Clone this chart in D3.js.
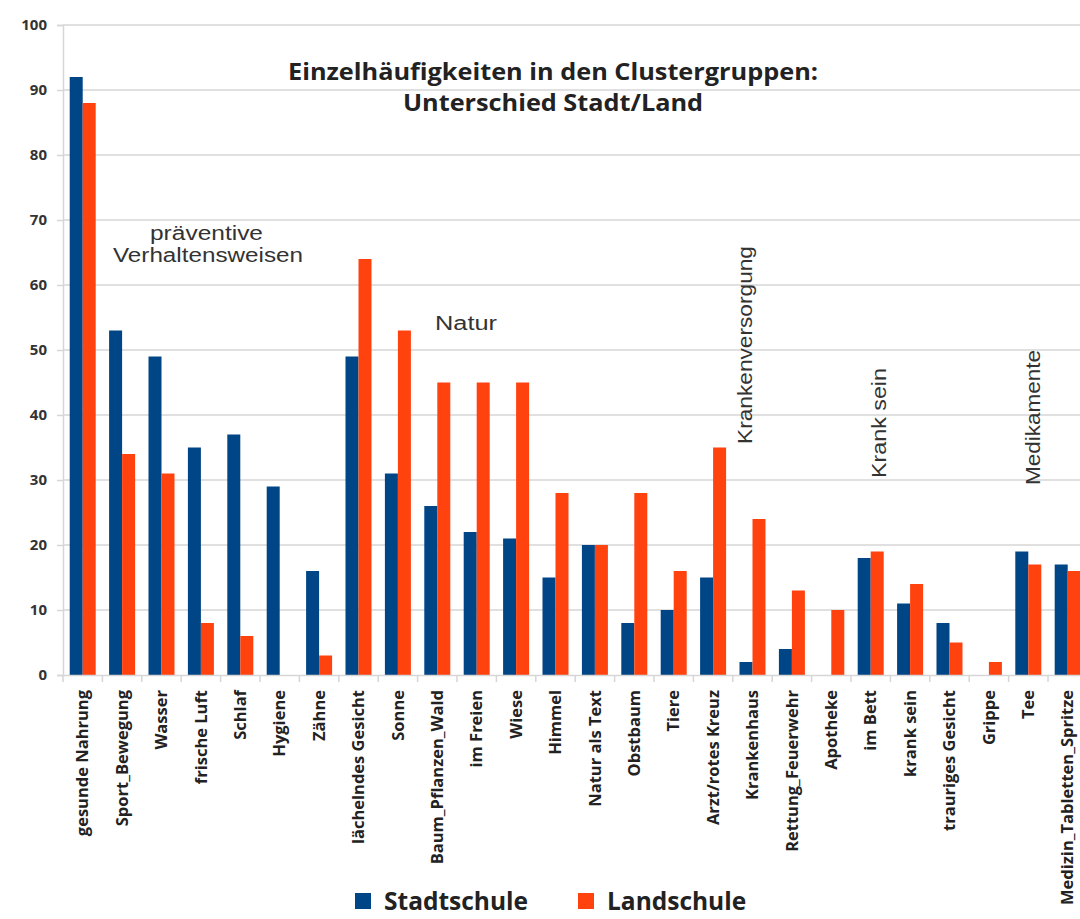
<!DOCTYPE html>
<html><head><meta charset="utf-8">
<script src="https://cdn.jsdelivr.net/npm/d3@7"></script>
<style>
html,body{margin:0;padding:0;background:#fff;}
svg{display:block;}
</style></head>
<body>
<svg id="c" width="1080" height="919"></svg>
<script>
const categories = ["gesunde Nahrung","Sport_Bewegung","Wasser","frische Luft","Schlaf","Hygiene","Zähne","lächelndes Gesicht","Sonne","Baum_Pflanzen_Wald","im Freien","Wiese","Himmel","Natur als Text","Obstbaum","Tiere","Arzt/rotes Kreuz","Krankenhaus","Rettung_Feuerwehr","Apotheke","im Bett","krank sein","trauriges Gesicht","Grippe","Tee","Medizin_Tabletten_Spritze"];
const stadtschule = [92,53,49,35,37,29,16,49,31,26,22,21,15,20,8,10,15,2,4,0,18,11,8,0,19,17];
const landschule  = [88,34,31,8,6,0,3,64,53,45,45,45,28,20,28,16,35,24,13,10,19,14,5,2,17,16];
const seriesNames = ["Stadtschule","Landschule"];
const yTicks = [0,10,20,30,40,50,60,70,80,90,100];
const titleLines = ["Einzelhäufigkeiten in den Clustergruppen:","Unterschied Stadt/Land"];

(function(){
const colors = ["#004586","#ff420e"];
const svg = d3.select("#c");
const mLeft = 63, mTop = 25, mBottom = 675;
const step = 39.4;
const mRight = mLeft + step*categories.length;

const y = d3.scaleLinear().domain([0,100]).range([mBottom, mTop]);
const x0 = d3.scaleBand().domain(categories).range([mLeft, mRight]).paddingInner(0.34).paddingOuter(0.17);
const x1 = d3.scaleBand().domain(seriesNames).range([0, x0.bandwidth()]);

// gridlines
svg.append("g").selectAll("line").data(yTicks.filter(d=>d>0)).join("line")
  .attr("x1", mLeft).attr("x2", 1080).attr("y1", d=>y(d)).attr("y2", d=>y(d))
  .attr("stroke", "#d6d6d6").attr("stroke-width", 1.5);

// y axis
const yAxis = svg.append("g").attr("transform", `translate(${mLeft},0)`)
  .call(d3.axisLeft(y).tickValues(yTicks).tickSize(6).tickPadding(10));
yAxis.select(".domain").attr("stroke", "#d6d6d6").attr("stroke-width", 1.5);
yAxis.selectAll(".tick line").attr("stroke", "#d6d6d6").attr("stroke-width", 1.5);
yAxis.selectAll("text").attr("font-family", "Open Sans, sans-serif").attr("font-weight", "bold")
  .attr("font-size", 15).attr("fill", "#333");

// bars
const data = categories.map((c,i)=>({cat:c, vals:[stadtschule[i], landschule[i]]}));
const g = svg.append("g").selectAll("g").data(data).join("g")
  .attr("transform", d=>`translate(${x0(d.cat)},0)`);
g.selectAll("rect").data(d=>d.vals.map((v,j)=>({s:seriesNames[j], v, j}))).join("rect")
  .attr("x", d=>x1(d.s)).attr("width", x1.bandwidth())
  .attr("y", d=>y(d.v)).attr("height", d=>y(0)-y(d.v))
  .attr("fill", d=>colors[d.j]);

// x axis
const xAxis = svg.append("g").attr("transform", `translate(0,${mBottom})`)
  .call(d3.axisBottom(x0).tickSize(0).tickPadding(0));
xAxis.select(".domain").attr("stroke", "#d6d6d6").attr("stroke-width", 1.5);
// category boundary ticks
svg.append("g").selectAll("line").data(categories).join("line")
  .attr("x1", d=>x0(d)-x0.step()*x0.paddingInner()/2).attr("x2", d=>x0(d)-x0.step()*x0.paddingInner()/2)
  .attr("y1", mBottom).attr("y2", mBottom+7).attr("stroke", "#d6d6d6").attr("stroke-width", 1.5);
xAxis.selectAll(".tick text")
  .attr("transform", "rotate(-90)")
  .attr("text-anchor", "end")
  .attr("x", -15).attr("y", 0).attr("dy", "0.35em")
  .attr("font-family", "Open Sans, sans-serif").attr("font-weight", "bold")
  .attr("font-size", 16.5).attr("fill", "#222");

// title
svg.append("g").selectAll("text").data(titleLines).join("text")
  .attr("x", 553).attr("y", (d,i)=>80+i*31).attr("text-anchor", "middle")
  .attr("font-family", "Open Sans, sans-serif").attr("font-weight", "bold")
  .attr("font-size", 24).attr("fill", "#222")
  .attr("textLength", (d,i)=>i===0?530:300).attr("lengthAdjust","spacingAndGlyphs")
  .text(d=>d);

// group annotations
const ann = svg.append("g").attr("font-family", "Liberation Sans, Arial, sans-serif")
  .attr("font-size", 20).attr("fill", "#333");
function label(txt, tf, len, anchor){
  ann.append("text").attr("transform", tf).attr("text-anchor", anchor||"start")
    .attr("textLength", len).attr("lengthAdjust","spacingAndGlyphs").text(txt);
}
label("präventive", "translate(150,240)", 113);
label("Verhaltensweisen", "translate(113,262)", 190);
label("Natur", "translate(435,330)", 62);
label("Krankenversorgung", "translate(752,444) rotate(-90)", 198);
label("Krank sein", "translate(886,478) rotate(-90)", 110);
label("Medikamente", "translate(1040,485) rotate(-90)", 135);

// legend
const leg = svg.append("g").selectAll("g").data(seriesNames).join("g")
  .attr("transform", (d,i)=>`translate(${i===0?355:578},893)`);
leg.append("rect").attr("width", 16).attr("height", 16).attr("fill", (d,i)=>colors[i]);
leg.append("text").attr("x", 29).attr("y", 17)
  .attr("font-family", "Open Sans, sans-serif").attr("font-weight", "bold")
  .attr("font-size", 24.5).attr("fill", "#222").text(d=>d);
})();
</script>
</body></html>
